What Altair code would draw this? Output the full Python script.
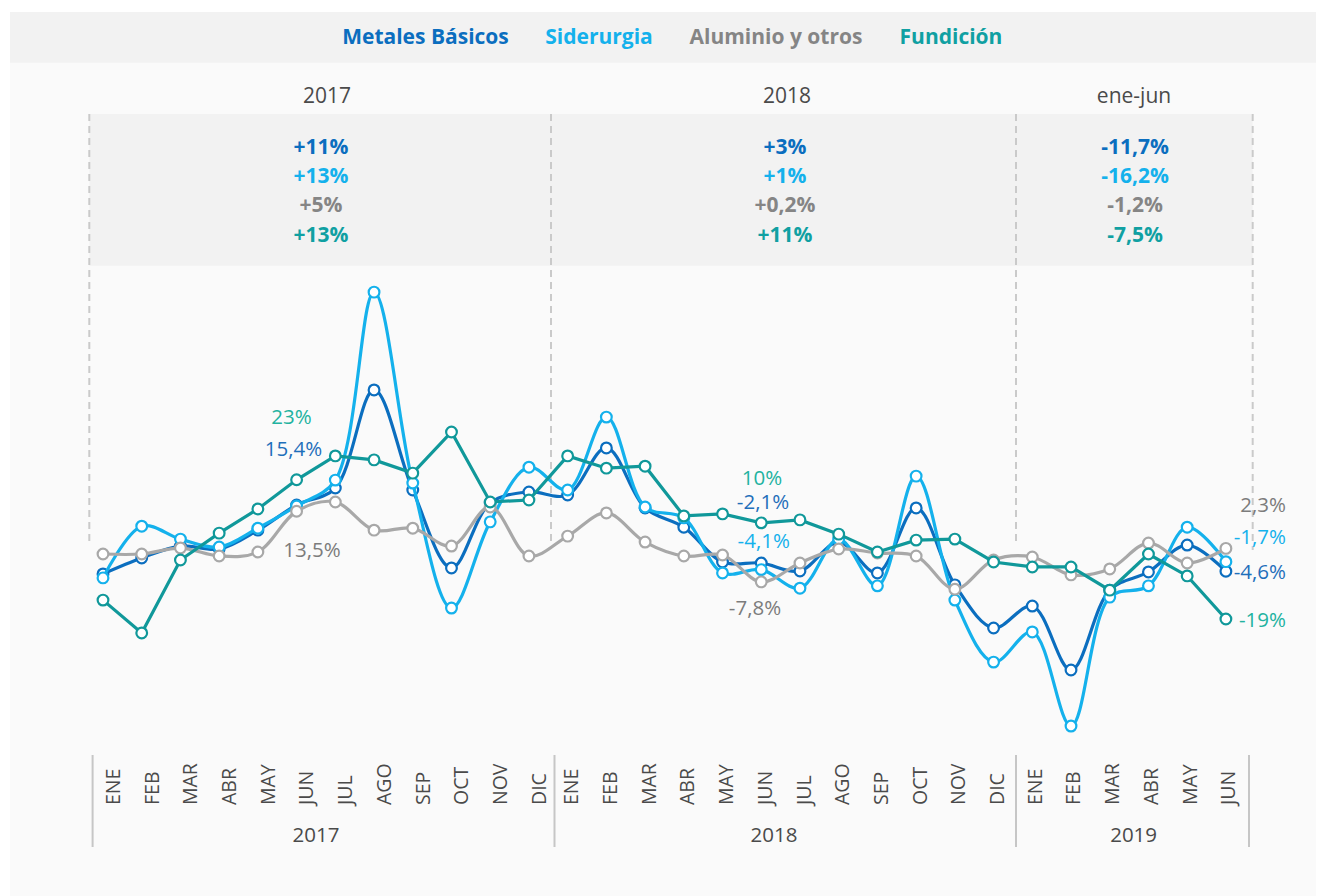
import altair as alt
import pandas as pd

# ---------------- data ----------------
months = ["ENE", "FEB", "MAR", "ABR", "MAY", "JUN", "JUL", "AGO", "SEP", "OCT", "NOV", "DIC",
          "ENE", "FEB", "MAR", "ABR", "MAY", "JUN", "JUL", "AGO", "SEP", "OCT", "NOV", "DIC",
          "ENE", "FEB", "MAR", "ABR", "MAY", "JUN"]
years = [2017] * 12 + [2018] * 12 + [2019] * 6

series_names = ["Metales Básicos", "Siderurgia", "Aluminio y otros", "Fundición"]

metales = [-5.4, -0.6, 3.0, 2.1, 7.8, 15.4, 20.5, 50.1, 19.9, -3.6, 16.0, 19.3,
           18.4, 32.6, 14.5, 8.7, -1.8, -2.1, -4.5, 4.2, -5.1, 14.5, -8.7, -21.7,
           -15.1, -34.4, -10.3, -4.8, 3.3, -4.6]
siderurgia = [-6.6, 9.0, 5.1, 2.7, 8.4, 15.1, 22.9, 79.6, 22.0, -15.7, 10.3, 26.8,
              19.9, 41.9, 14.8, 11.5, -5.1, -4.1, -9.7, 5.1, -9.0, 24.1, -13.3, -32.0,
              -22.9, -51.3, -12.4, -9.0, 8.7, -1.7]
aluminio = [0.6, 0.6, 2.4, 0.0, 1.2, 13.5, 16.3, 7.8, 8.4, 3.0, 14.8, 0.0,
            6.0, 13.0, 4.2, 0.0, 0.3, -7.8, -2.1, 2.1, 0.9, 0.0, -10.0, -1.2,
            -0.3, -5.7, -3.9, 3.9, -2.1, 2.3]
fundicion = [-13.3, -23.2, -1.2, 6.9, 14.2, 23.0, 30.2, 29.0, 25.0, 37.4, 16.3, 16.9,
             30.2, 26.5, 27.1, 12.1, 12.7, 10.0, 10.9, 6.6, 1.2, 4.8, 5.1, -1.8,
             -3.3, -3.3, -10.3, 0.6, -6.0, -19.0]

periods = ["2017", "2018", "ene-jun"]
summary_metales = ["+11%", "+3%", "-11,7%"]
summary_siderurgia = ["+13%", "+1%", "-16,2%"]
summary_aluminio = ["+5%", "+0,2%", "-1,2%"]
summary_fundicion = ["+13%", "+11%", "-7,5%"]

axis_years = ["2017", "2018", "2019"]

ann_2017 = ["23%", "15,4%", "13,5%"]
ann_2018 = ["10%", "-2,1%", "-4,1%", "-7,8%"]
ann_end = ["2,3%", "-1,7%", "-4,6%", "-19%"]

# ---------------- styles ----------------
FONT = "Open Sans"
line_colors = ["#0b6ebf", "#14b1ec", "#a8a8a8", "#10989a"]
text_colors = ["#0b6ebf", "#14b1ec", "#858585", "#10a0a2"]
ann_colors = {"m": "#1f6fba", "s": "#14b1ec", "a": "#7c7c7c", "f": "#22b2a0"}
interps = ["catmull-rom", "catmull-rom", "catmull-rom", "linear"]
TXT = "#4a4a4a"

OX, OY = 8, 8  # page margin
W, H = 1308, 888

xs = alt.Scale(domain=[-2.4535, 31.327], nice=False, zero=False)
ys = alt.Scale(domain=[-102.56, 165.31], nice=False, zero=False)

one = pd.DataFrame({"k": [0]})


def rect(x1, y1, x2, y2, color):
    return alt.Chart(one).mark_rect(color=color).encode(
        x=alt.value(x1 - OX), x2=alt.value(x2 - OX),
        y=alt.value(y1 - OY), y2=alt.value(y2 - OY))


def rule(x, y1, y2, color, width, dash=None):
    kw = dict(color=color, strokeWidth=width)
    if dash:
        kw["strokeDash"] = dash
    return alt.Chart(one).mark_rule(**kw).encode(
        x=alt.value(x - OX), y=alt.value(y1 - OY), y2=alt.value(y2 - OY))


def text(s, x, y, color, size, weight="normal", align="center"):
    return alt.Chart(one).mark_text(
        font=FONT, fontSize=size, fontWeight=weight, color=color,
        align=align, baseline="alphabetic").encode(
        x=alt.value(x - OX), y=alt.value(y - OY), text=alt.value(s))


layers = []
# backgrounds
layers.append(rect(10, 12, 1316, 896, "#fafafa"))
layers.append(rect(10, 12, 1316, 62.7, "#f2f2f2"))
layers.append(rect(89.3, 114, 1252.7, 265.7, "#f2f2f2"))

# dashed period separators
for xp, yb in zip([89.3, 551, 1016, 1252.7], [542, 542, 543, 550]):
    layers.append(rule(xp, 114, yb, "#cacaca", 2, [7, 5]))

# bottom axis separators
for xp in [92.6, 554.5, 1016, 1249]:
    layers.append(rule(xp, 755, 847, "#c6c6c6", 2))

# legend
for name, col, cx in zip(series_names, text_colors, [425.5, 599, 776, 951]):
    layers.append(text(name, cx, 44.3, col, 21, "bold"))

# period headers
for p, cx in zip(periods, [327, 787, 1134]):
    layers.append(text(p, cx, 103, TXT, 21))

# summary box
summ = [summary_metales, summary_siderurgia, summary_aluminio, summary_fundicion]
for r, (vals, col) in enumerate(zip(summ, text_colors)):
    for c, cx in enumerate([321, 785, 1135]):
        layers.append(text(vals[c], cx, 153.5 + 29.4 * r, col, 21, "bold"))

# data lines and markers
series_vals = [metales, siderurgia, aluminio, fundicion]
for name, vals, lc, ip in zip(series_names, series_vals, line_colors, interps):
    df = pd.DataFrame({"idx": list(range(len(vals))), "value": vals,
                       "mes": months, "year": years, "serie": name})
    base = alt.Chart(df).encode(
        x=alt.X("idx:Q", scale=xs, axis=None),
        y=alt.Y("value:Q", scale=ys, axis=None))
    layers.append(base.mark_line(color=lc, strokeWidth=3.2, interpolate=ip))
    layers.append(base.mark_circle(fill="white", stroke=lc, strokeWidth=2.2,
                                   size=115, opacity=1))

# month labels
dfm = pd.DataFrame({"idx": list(range(len(months))), "mes": months, "year": years})
layers.append(
    alt.Chart(dfm).transform_calculate(
        xl="datum.idx + (datum.year == 2017 ? 0.28 : (datum.year == 2018 ? 0.12 : 0.09))"
    ).mark_text(font=FONT, fontSize=19.5, color=TXT, angle=270,
                align="left", baseline="middle").encode(
        x=alt.X("xl:Q", scale=xs, axis=None),
        y=alt.value(805 - OY),
        text="mes:N"))

# year labels under axis
for yv, cx in zip(axis_years, [316, 774, 1133.6]):
    layers.append(text(yv, cx, 841.7, TXT, 20.5))

# annotations
for s, cx, by, col in zip(ann_2017, [291.5, 293.5, 312], [424, 456, 556.5],
                          [ann_colors["f"], ann_colors["m"], ann_colors["a"]]):
    layers.append(text(s, cx, by, col, 20.5))
for s, cx, by, col in zip(ann_2018, [762, 763, 763.7, 755], [485, 509, 548, 615],
                          [ann_colors["f"], ann_colors["m"], ann_colors["s"], ann_colors["a"]]):
    layers.append(text(s, cx, by, col, 20.5))
for s, by, col in zip(ann_end, [512.3, 544.3, 579.3, 626.7],
                      [ann_colors["a"], ann_colors["s"], ann_colors["m"], ann_colors["f"]]):
    layers.append(text(s, 1286, by, col, 20.5, align="right"))

chart = alt.layer(*layers).properties(
    width=W, height=H,
    autosize=alt.AutoSizeParams(type="none"),
    padding=0,
    background="white",
).configure_view(strokeWidth=0)

chart.save("out.html", embed_options={"renderer": "svg", "actions": False})
